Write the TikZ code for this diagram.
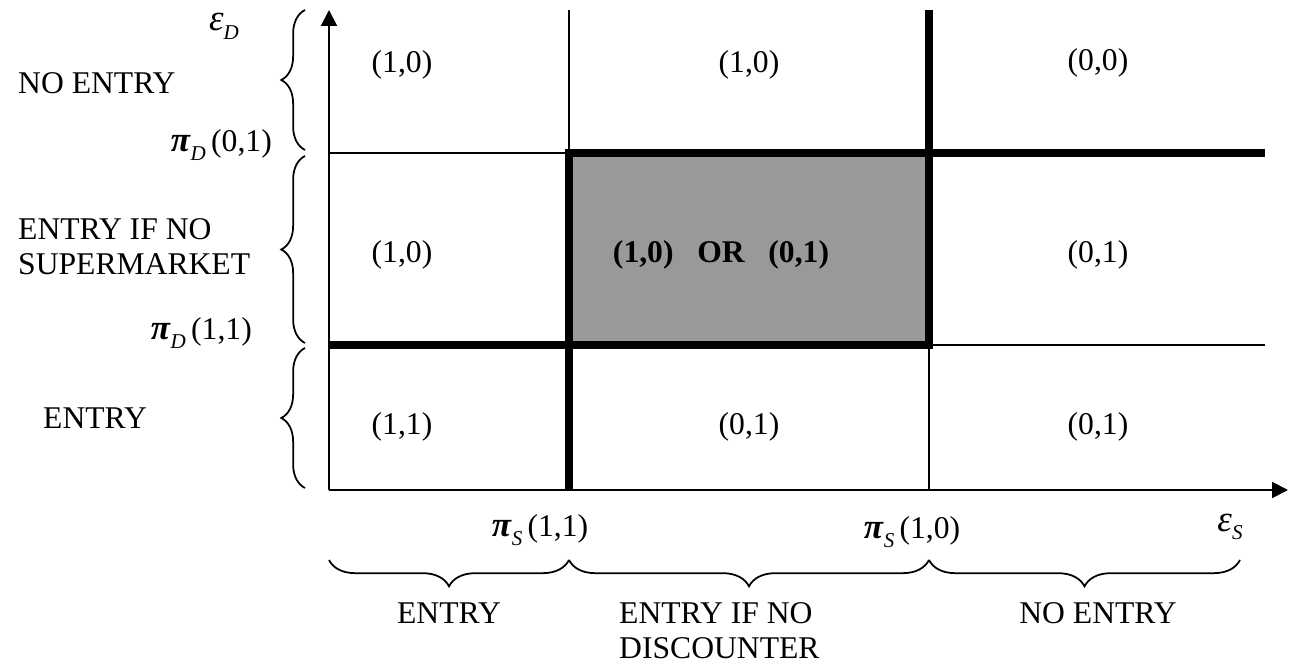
\documentclass[tikz,border=0pt]{standalone}
\usepackage{fontspec}
\setmainfont{Liberation Serif}
\usetikzlibrary{arrows.meta,decorations.pathreplacing}

\begin{document}
\begin{tikzpicture}[
        x=0.02cm, y=-0.02cm,
        every node/.style={font=\fontsize{18}{20}\selectfont},
        eixo/.style={line width=1.1pt, -{Triangle[length=9pt,width=9pt]}},
        fina/.style={line width=1pt},
        grossa/.style={line width=5pt},
        chave/.style={line width=1pt, decorate, decoration={brace, amplitude=#1}},
        rotulo/.style={align=left, anchor=west},
    ]
        \useasboundingbox (0,0) rectangle (1298,668);

        % pontos da grade
        \coordinate (o) at (329,490);
        \coordinate (ytop) at (329,10);
        \coordinate (xend) at (1288,490);
        \coordinate (s1) at (569,490);
        \coordinate (s1top) at (569,10);
        \coordinate (s2) at (929,490);
        \coordinate (s2top) at (929,10);
        \coordinate (d1) at (329,345);
        \coordinate (d1end) at (1265,345);
        \coordinate (d2) at (329,153);
        \coordinate (d2end) at (1265,153);
        \coordinate (c2) at (569,153);
        \coordinate (c4) at (929,345);

        \fill[black!40] (c2) rectangle (c4);

        \draw[fina] (s1top) -- (c2);
        \draw[fina] (d2) -- (c2);
        \draw[fina] (c4) -- (s2);
        \draw[fina] (c4) -- (d1end);

        \draw[grossa] (d1) -- (c4) -- (s2top);
        \draw[grossa] (s1) -- (c2) -- (d2end);

        \draw[eixo] (o) -- (ytop);
        \draw[eixo] (o) -- (xend);

        \node (a1) at (402,65) {(1,0)};
        \node (a2) at (749,65) {(1,0)};
        \node (a3) at (1098,63) {(0,0)};
        \node (b1) at (402,255) {(1,0)};
        \node (b2) at (721,255) {\textbf{(1,0)\hspace{0.75em}OR\hspace{0.75em}(0,1)}};
        \node (b3) at (1098,255) {(0,1)};
        \node (e1) at (402,427) {(1,1)};
        \node (e2) at (749,427) {(0,1)};
        \node (e3) at (1098,427) {(0,1)};

        % simbolos dos eixos
        \node (epsd) at (224,26) {{\fontsize{21}{21}\selectfont\textit{ε}}\raisebox{-5pt}{\fontsize{12}{12}\selectfont\textit{D}}};
        \node[anchor=east] (pd01) at (278,145) {{\fontsize{20}{20}\selectfont\textbf{\textit{π}}}\raisebox{-5pt}{\fontsize{12}{12}\selectfont\textit{D}}\,(0,1)};
        \node[anchor=east] (pd11) at (258,333) {{\fontsize{20}{20}\selectfont\textbf{\textit{π}}}\raisebox{-5pt}{\fontsize{12}{12}\selectfont\textit{D}}\,(1,1)};
        \node (ps11) at (540,530) {{\fontsize{20}{20}\selectfont\textbf{\textit{π}}}\raisebox{-5pt}{\fontsize{12}{12}\selectfont\textit{S}}\,(1,1)};
        \node (ps10) at (912,532) {{\fontsize{20}{20}\selectfont\textbf{\textit{π}}}\raisebox{-5pt}{\fontsize{12}{12}\selectfont\textit{S}}\,(1,0)};
        \node (epss) at (1230,527) {{\fontsize{21}{21}\selectfont\textit{ε}}\raisebox{-5pt}{\fontsize{12}{12}\selectfont\textit{S}}};

        \draw[chave=13.5pt] (305,150) -- (305,10);
        \draw[chave=13.5pt] (305,343) -- (305,156);
        \draw[chave=13.5pt] (305,488) -- (305,348);
        \draw[chave=15pt] (s1 |- 0,560) -- (o |- 0,560);
        \draw[chave=15pt] (s2 |- 0,560) -- (s1 |- 0,560);
        \draw[chave=15pt] (1240,560) -- (s2 |- 0,560);

        \node[rotulo] (ne1) at (12,83) {NO ENTRY};
        \node[rotulo] (ens) at (12,247) {ENTRY IF NO\\SUPERMARKET};
        \node[rotulo] (en1) at (37,418) {ENTRY};
        \node (en2) at (449,613) {ENTRY};
        \node[rotulo] (end) at (613,631) {ENTRY IF NO\\DISCOUNTER};
        \node (ne2) at (1098,613) {NO ENTRY};

    \end{tikzpicture}
\end{document}
